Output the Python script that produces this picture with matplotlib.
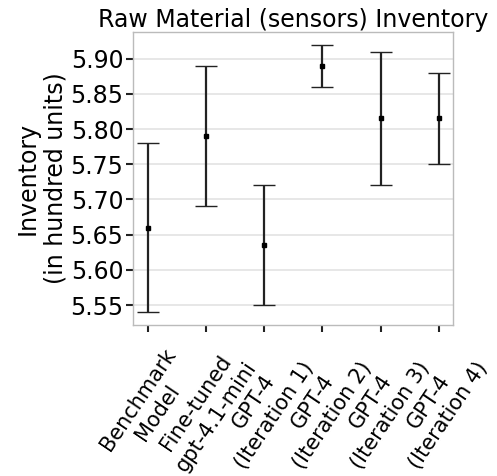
import numpy as np
import matplotlib.pyplot as plt

models = ['Benchmark\nModel', 'Fine-tuned\ngpt-4.1-mini', 'GPT-4\n(Iteration 1)',
          'GPT-4\n(Iteration 2)', 'GPT-4\n(Iteration 3)', 'GPT-4\n(Iteration 4)']
mean = [5.66, 5.79, 5.635, 5.89, 5.815, 5.815]
low = [5.54, 5.69, 5.55, 5.86, 5.72, 5.75]
high = [5.78, 5.89, 5.72, 5.92, 5.91, 5.88]

x = np.arange(len(models))
mean = np.array(mean)
yerr = [mean - np.array(low), np.array(high) - mean]

fig, ax = plt.subplots(figsize=(4.97, 4.76), dpi=100)
ax.errorbar(x, mean, yerr=yerr, fmt='s', color='black', ecolor='#222222',
            markersize=3.5, elinewidth=1.6, capsize=8, capthick=1.0, zorder=3)

ax.set_xlim(-0.25, 5.25)
ax.set_ylim(5.5215, 5.938)
ax.set_yticks([5.55, 5.60, 5.65, 5.70, 5.75, 5.80, 5.85, 5.90])
ax.set_yticklabels(['%.2f' % v for v in ax.get_yticks()])
ax.set_xticks(x)
ax.set_xticklabels(models, rotation=56, ha='center', multialignment='center',
                   fontsize=15, linespacing=1.25)
ax.yaxis.grid(True, color='#e3e3e3', linewidth=1.2)
ax.set_axisbelow(True)
for s in ax.spines.values():
    s.set_color('#bbbbbb')
    s.set_linewidth(1.0)
ax.tick_params(axis='y', labelsize=17, pad=2)
ax.tick_params(axis='x', pad=9)
ax.tick_params(axis='both', length=5, width=1.5, color='#222222')
ax.set_title('Raw Material (sensors) Inventory', fontsize=17, pad=3)
ax.set_ylabel('Inventory\n(in hundred units)', fontsize=17, labelpad=2)

plt.subplots_adjust(left=0.268, right=0.912, top=0.933, bottom=0.317)
plt.savefig('out.png', dpi=100)
